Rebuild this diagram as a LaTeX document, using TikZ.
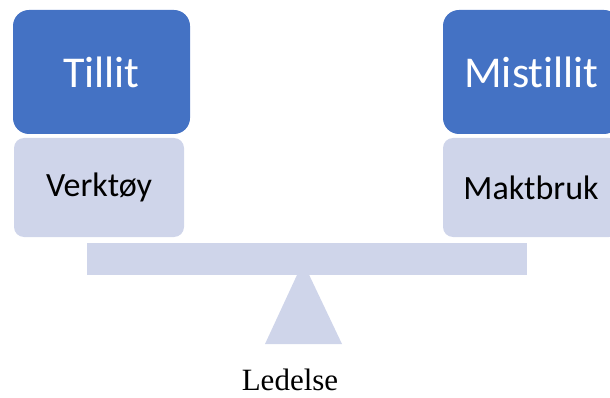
\documentclass[tikz,border=0pt]{standalone}
\usepackage{fontspec}
\setmainfont{Liberation Serif}
\newfontfamily\calib[Ligatures=NoCommon]{Carlito}
\definecolor{darkblue}{HTML}{4472C4}
\definecolor{lightblue}{HTML}{CFD5EA}
\tikzset{
	topbox/.style = {fill=darkblue, text=white, rounded corners=16pt, minimum width=177pt, minimum height=124pt, inner sep=0pt, font=\calib\fontsize{44}{50}\selectfont},
	lowbox/.style = {fill=lightblue, text=black, rounded corners=10pt, minimum height=99pt, inner sep=0pt, font=\calib\fontsize{34}{40}\selectfont},
}
\begin{document}
\begin{tikzpicture}[x=1pt, y=-1pt]
	\useasboundingbox (0,0) rectangle (610,398);
	\clip (0,0) rectangle (610,398);
	% Nodes
	\node[topbox] (T) at (101.5,72) {Tillit};
	\node[topbox] (M) at (531.5,72) {Mistillit};
	\node[lowbox, minimum width=170pt] (V) at (99,187.5) {Verktøy};
	\node[lowbox, minimum width=176pt] (K) at (531,187.5) {Maktbruk};

	% Scale
	\fill[lightblue] (303,262) -- (342,344) -- (265,344) -- cycle;
	\node[fill=lightblue, minimum width=440pt, minimum height=32pt, inner sep=0pt] (B) at (307,259) {};
	\node[font=\fontsize{31}{36}\selectfont, inner sep=0pt, anchor=base] (L) at (290,390) {Ledelse};
\end{tikzpicture}
\end{document}
